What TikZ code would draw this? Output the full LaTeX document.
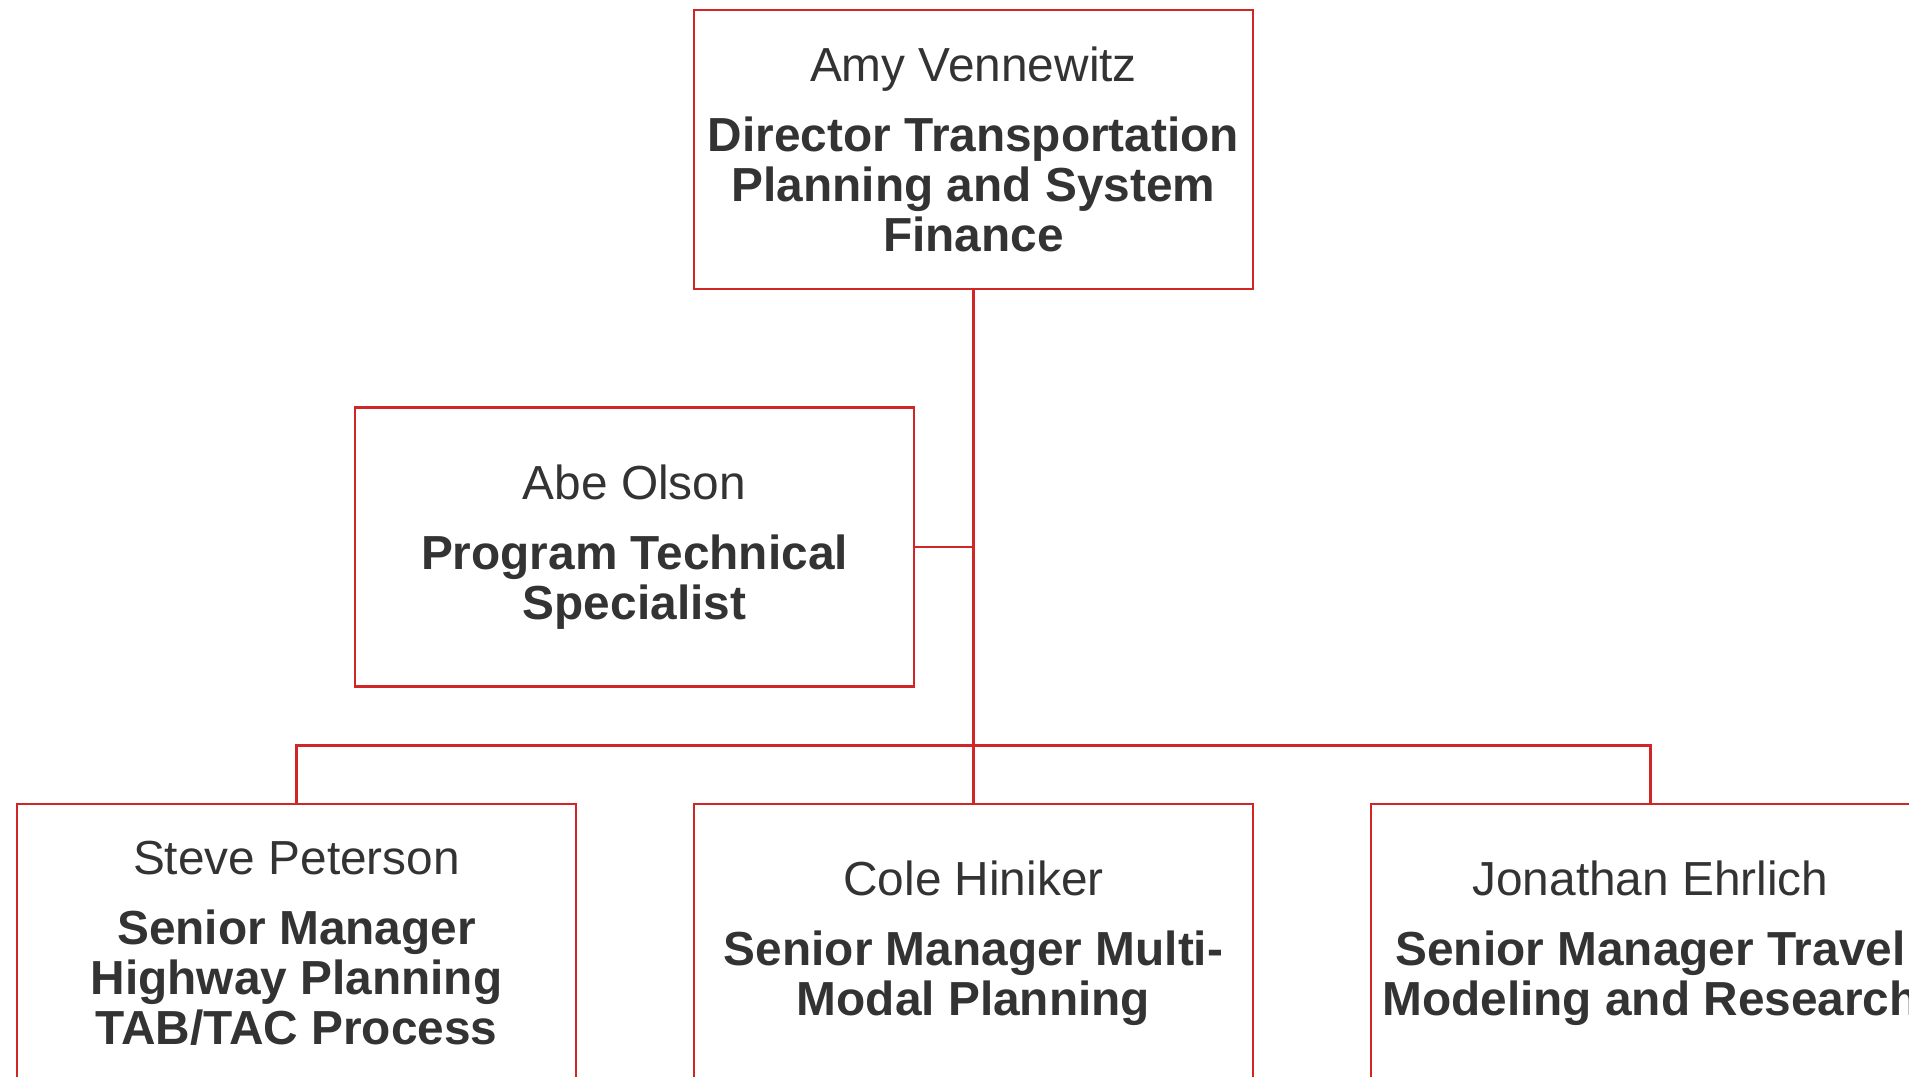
\documentclass[tikz,border=0pt]{standalone}
\usepackage{fontspec}
\setmainfont{Liberation Sans}
\usepackage{tikz}
\usetikzlibrary{trees}
\usetikzlibrary{positioning}

\definecolor{chartred}{RGB}{208,38,38}
\definecolor{chartgray}{RGB}{51,51,51}

\begin{document}
\begin{tikzpicture}[level distance=397pt, sibling distance=338.5pt,
  every node/.style = {align=center},
  post/.style = {draw=chartred, line width=1.4pt, text=chartgray,
    minimum width=279.5pt, minimum height=139.5pt, inner sep=2pt,
    font=\fontsize{23.9}{25}\selectfont},
  edge from parent/.style={draw=chartred, line width=1.4pt},
  edge from parent path={(\tikzparentnode.south) -- +(0,-227.5pt)
    -| (\tikzchildnode.north)}]
  \useasboundingbox (-486.75pt,74.75pt) rectangle (467.75pt,-463.25pt);
  \node[post] (director) {Amy Vennewitz\\[10pt]
    \textbf{Director Transportation}\\ \textbf{Planning and System}\\
    \textbf{Finance}}
  child { node[post] (highway) {Steve Peterson\\[10pt]
    \textbf{Senior Manager}\\ \textbf{Highway Planning}\\
    \textbf{TAB/TAC Process}} }
  child { node[post] (multimodal) {Cole Hiniker\\[10pt]
    \textbf{Senior Manager Multi-}\\ \textbf{Modal Planning}} }
  child { node[post] (travel) {Jonathan Ehrlich\\[10pt]
    \textbf{Senior Manager Travel}\\ \textbf{Modeling and Research}} };
  \node[post, below=57.8pt of director, xshift=-169.5pt] (specialist)
    {Abe Olson\\[10pt] \textbf{Program Technical}\\ \textbf{Specialist}};
  \path [draw=chartred, line width=1.4pt] (specialist) -- (specialist -| director);
\end{tikzpicture}
\end{document}
